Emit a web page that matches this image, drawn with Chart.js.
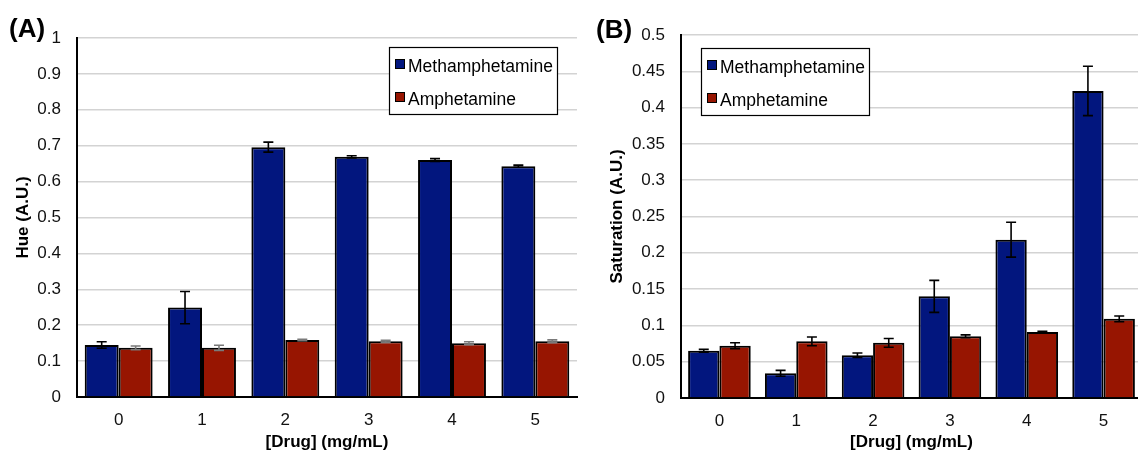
<!DOCTYPE html>
<html>
<head>
<meta charset="utf-8">
<script src="https://cdn.jsdelivr.net/npm/chart.js@4.4.0/dist/chart.umd.min.js"></script>
<style>
  html, body { margin: 0; padding: 0; background: #fff; overflow: hidden; }
  #wrapA { position: absolute; left: 0; top: 0; width: 580px; height: 458px; }
  #wrapB { position: absolute; left: 580px; top: 0; width: 562px; height: 458px; }
</style>
</head>
<body>
<div id="wrapA"><canvas id="hueChart"></canvas></div>
<div id="wrapB"><canvas id="satChart"></canvas></div>
<script>
// --- dados ---
const doses = ['0', '1', '2', '3', '4', '5'];
const seriesNames = ['Methamphetamine', 'Amphetamine'];

// (A) Hue
const hueMeth    = [0.145, 0.249, 0.696, 0.669, 0.660, 0.643];
const hueMethErr = [0.009, 0.045, 0.014, 0.003, 0.004, 0.003];
const hueAmph    = [0.137, 0.137, 0.159, 0.155, 0.150, 0.155];
const hueAmphErr = [0.005, 0.007, 0.002, 0.003, 0.004, 0.004];
const hueTicks   = ['0', '0.1', '0.2', '0.3', '0.4', '0.5', '0.6', '0.7', '0.8', '0.9', '1'];

// (B) Saturation
const satMeth    = [0.065, 0.034, 0.059, 0.140, 0.218, 0.423];
const satMethErr = [0.002, 0.004, 0.003, 0.022, 0.024, 0.034];
const satAmph    = [0.072, 0.078, 0.076, 0.085, 0.091, 0.109];
const satAmphErr = [0.004, 0.006, 0.006, 0.002, 0.001, 0.004];
const satTicks   = ['0', '0.05', '0.1', '0.15', '0.2', '0.25', '0.3', '0.35', '0.4', '0.45', '0.5'];

const methColor = '#02167E';
const amphColor = '#971501';
const gridColor = '#d3d3d3';

Chart.defaults.font.family = '"Liberation Sans", Arial, sans-serif';
Chart.defaults.color = '#111';

// barras de erro (desvio) desenhadas em cima de cada barra
const errorBars = {
  id: 'errorBars',
  afterDatasetsDraw(chart) {
    const ctx = chart.ctx;
    const y = chart.scales.y;
    chart.data.datasets.forEach((ds, di) => {
      const meta = chart.getDatasetMeta(di);
      ctx.save();
      ctx.strokeStyle = ds.errorColor || '#000';
      ctx.lineWidth = 1.6;
      meta.data.forEach((bar, i) => {
        const v = ds.data[i], e = ds.errors[i];
        const yTop = y.getPixelForValue(v + e);
        const yBot = y.getPixelForValue(v - e);
        ctx.beginPath();
        ctx.moveTo(bar.x, yTop); ctx.lineTo(bar.x, yBot);
        ctx.moveTo(bar.x - 5, yTop); ctx.lineTo(bar.x + 5, yTop);
        ctx.moveTo(bar.x - 5, yBot); ctx.lineTo(bar.x + 5, yBot);
        ctx.stroke();
      });
      ctx.restore();
    });
  }
};

// legenda com caixa + rótulo do painel (A)/(B)
const boxLegend = {
  id: 'boxLegend',
  afterDraw(chart, args, opts) {
    const ctx = chart.ctx;
    ctx.save();
    // rótulo do painel
    ctx.font = 'bold 26px "Liberation Sans", Arial, sans-serif';
    ctx.fillStyle = '#000';
    ctx.textBaseline = 'middle';
    ctx.textAlign = 'left';
    ctx.fillText(opts.panel, opts.panelX, opts.panelY);

    // caixa
    const x = opts.x, y = opts.y;
    ctx.fillStyle = '#fff';
    ctx.fillRect(x, y, 168, 67);
    ctx.strokeStyle = '#000';
    ctx.lineWidth = 1.2;
    ctx.strokeRect(x + 0.5, y + 0.5, 168, 67);

    ctx.font = '17.5px "Liberation Sans", Arial, sans-serif';
    ctx.textBaseline = 'alphabetic';
    chart.data.datasets.forEach((ds, i) => {
      const ry = y + 12 + i * 33;
      ctx.fillStyle = ds.backgroundColor;
      ctx.fillRect(x + 6, ry, 9, 9);
      ctx.lineWidth = 1;
      ctx.strokeRect(x + 6.5, ry + 0.5, 9, 9);
      ctx.fillStyle = '#000';
      ctx.fillText(ds.label, x + 19, ry + 13);
    });
    ctx.restore();
  }
};

function makeChart(id, c) {
  return new Chart(document.getElementById(id), {
    type: 'bar',
    data: {
      labels: doses,
      datasets: [
        { label: seriesNames[0], data: c.meth, errors: c.methErr, errorColor: '#000',
          backgroundColor: methColor, borderColor: '#000', borderWidth: 2 },
        { label: seriesNames[1], data: c.amph, errors: c.amphErr, errorColor: c.amphErrColor,
          backgroundColor: amphColor, borderColor: '#000', borderWidth: 2 }
      ]
    },
    options: {
      responsive: true,
      maintainAspectRatio: false,
      animation: false,
      categoryPercentage: 0.815,
      barPercentage: 1.0,
      layout: { padding: c.padding },
      plugins: {
        legend: { display: false },
        tooltip: { enabled: false },
        boxLegend: c.legend
      },
      scales: {
        x: {
          grid: { display: false, drawTicks: false },
          border: { color: '#000', width: 2 },
          ticks: { padding: 13, font: { size: 17 }, color: '#111' },
          title: { display: true, text: '[Drug] (mg/mL)', color: '#000',
                   font: { size: 17, weight: 'bold' }, padding: { top: 4, bottom: 5 } },
          afterFit(s) { s.height = c.xHeight; }
        },
        y: {
          min: 0, max: c.yMax,
          ticks: { stepSize: c.step, padding: 16, font: { size: 17 }, color: '#111',
                   callback: (v, i) => c.tickLabels[i] },
          grid: { color: gridColor, lineWidth: 1.5, drawTicks: false },
          border: { color: '#000', width: 2 },
          title: { display: true, text: c.yTitle, color: '#000',
                   font: { size: 17, weight: 'bold' }, padding: { top: 4, bottom: 4 } },
          afterFit(s) { s.width = c.yWidth; }
        }
      }
    },
    plugins: [errorBars, boxLegend]
  });
}

makeChart('hueChart', {
  meth: hueMeth, methErr: hueMethErr, amph: hueAmph, amphErr: hueAmphErr,
  amphErrColor: '#7a7a7a',
  yMax: 1, step: 0.1, tickLabels: hueTicks, yTitle: 'Hue (A.U.)',
  padding: { left: 9, top: 38, right: 3, bottom: 0 },
  yWidth: 68, xHeight: 61,
  legend: { x: 389, y: 47, panel: '(A)', panelX: 9, panelY: 30 }
});

makeChart('satChart', {
  meth: satMeth, methErr: satMethErr, amph: satAmph, amphErr: satAmphErr,
  amphErrColor: '#000',
  yMax: 0.5, step: 0.05, tickLabels: satTicks, yTitle: 'Saturation (A.U.)',
  padding: { left: 23, top: 35, right: 0, bottom: 0 },
  yWidth: 78, xHeight: 60,
  legend: { x: 121, y: 48, panel: '(B)', panelX: 16, panelY: 31 }
});
</script>
</body>
</html>
